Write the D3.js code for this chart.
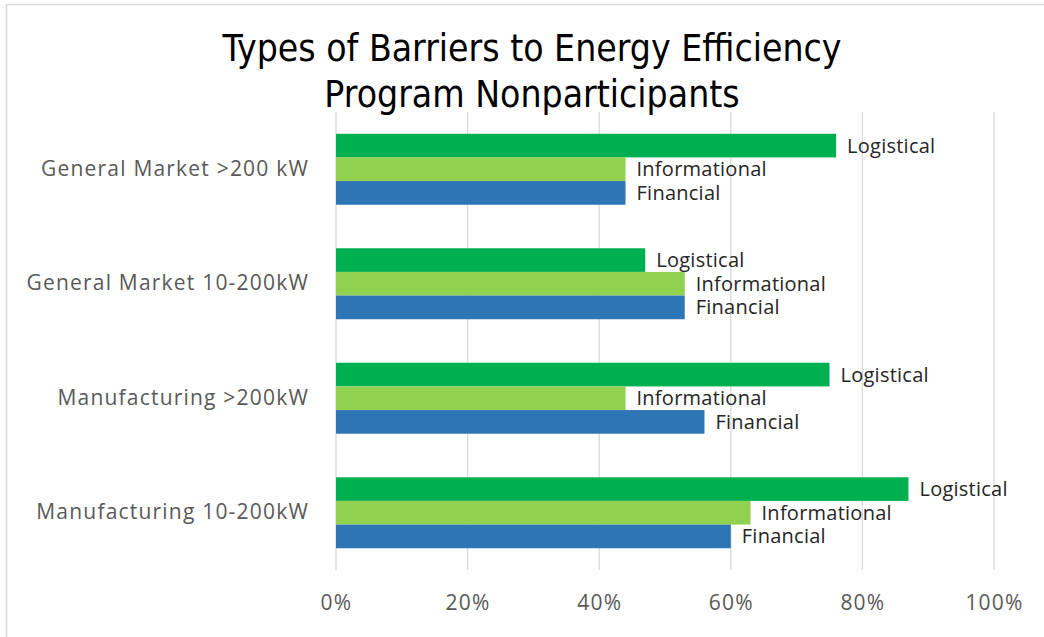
<!DOCTYPE html>
<html>
<head>
<meta charset="utf-8">
<script src="https://cdn.jsdelivr.net/npm/d3@7"></script>
<style>
  body { margin: 0; background: #fff; }
  svg text { font-family: "Open Sans", "Noto Sans", sans-serif; }
  .title { font-family: "Liberation Sans Narrow", "DejaVu Sans Condensed", sans-serif !important; fill: #000; }
  .catLabel { fill: #595959; font-size: 21px; letter-spacing: 1.2px; }
  .tickLabel { fill: #595959; font-size: 21px; letter-spacing: 1.2px; }
  .dataLabel { fill: #262626; font-size: 20px; letter-spacing: 0.25px; }
</style>
</head>
<body>
<div id="chart"></div>
<script>
var svgWidth = 1044;
var svgHeight = 637;

// chart data
var categories = ["General Market >200 kW", "General Market 10-200kW", "Manufacturing >200kW", "Manufacturing 10-200kW"];
var seriesNames = ["Logistical", "Informational", "Financial"];
var logistical = [0.76, 0.47, 0.75, 0.87];
var informational = [0.44, 0.53, 0.44, 0.63];
var financial = [0.44, 0.53, 0.56, 0.60];
var tickValues = [0, 0.2, 0.4, 0.6, 0.8, 1.0];
var seriesColors = ["#00B050", "#92D050", "#2E75B6"];

var titleLines = ["Types of Barriers to Energy Efficiency", "Program Nonparticipants"];

var margin = { top: 112, right: 50, bottom: 67, left: 336 };
var width = 994 - margin.left;
var height = 570 - margin.top;

var svg = d3.select("#chart")
  .append("svg")
  .attr("width", svgWidth)
  .attr("height", svgHeight);

// light chart-area border
svg.append("rect")
  .attr("x", 6.5)
  .attr("y", 4.5)
  .attr("width", 1100)
  .attr("height", 700)
  .attr("fill", "none")
  .attr("stroke", "#d9d9d9")
  .attr("stroke-width", 1.5);

var chartGroup = svg.append("g")
  .attr("transform", `translate(${margin.left}, ${margin.top})`);

// scales
var xScale = d3.scaleLinear()
  .domain([0, 1])
  .range([0, width]);

var yScale = d3.scaleBand()
  .domain(categories)
  .range([0, height])
  .paddingInner(0.38)
  .paddingOuter(0.19);

var ySeries = d3.scaleBand()
  .domain(seriesNames)
  .range([0, yScale.bandwidth()]);

// gridlines
chartGroup.selectAll(".grid")
  .data(tickValues)
  .enter()
  .append("line")
  .attr("x1", d => xScale(d))
  .attr("x2", d => xScale(d))
  .attr("y1", 0)
  .attr("y2", height)
  .attr("stroke", "#d9d9d9")
  .attr("stroke-width", 1.3);

// bottom axis tick labels
var bottomAxis = d3.axisBottom(xScale)
  .tickValues(tickValues)
  .tickFormat(d3.format(".0%"))
  .tickSize(0)
  .tickPadding(0);

var xAxisG = chartGroup.append("g")
  .attr("transform", `translate(0, ${height + 25})`)
  .call(bottomAxis);
xAxisG.select(".domain").remove();
xAxisG.selectAll("text")
  .attr("class", "tickLabel")
  .attr("font-family", null)
  .attr("font-size", null)
  .attr("fill", null);

// left axis category labels
var leftAxis = d3.axisLeft(yScale).tickSize(0).tickPadding(27);
var yAxisG = chartGroup.append("g").call(leftAxis);
yAxisG.select(".domain").remove();
yAxisG.selectAll("text")
  .attr("class", "catLabel")
  .attr("font-family", null)
  .attr("font-size", null)
  .attr("fill", null);

// build rows for the bars
var rows = [];
categories.forEach(function(c, i) {
  rows.push({ cat: c, series: "Logistical", value: logistical[i] });
  rows.push({ cat: c, series: "Informational", value: informational[i] });
  rows.push({ cat: c, series: "Financial", value: financial[i] });
});

var color = d3.scaleOrdinal().domain(seriesNames).range(seriesColors);

chartGroup.selectAll("rect.bar")
  .data(rows)
  .enter()
  .append("rect")
  .attr("class", "bar")
  .attr("x", 0)
  .attr("y", d => yScale(d.cat) + ySeries(d.series))
  .attr("width", d => xScale(d.value))
  .attr("height", ySeries.bandwidth())
  .attr("fill", d => color(d.series));

// data labels (series name at bar end)
chartGroup.selectAll("text.dataLabel")
  .data(rows)
  .enter()
  .append("text")
  .attr("class", "dataLabel")
  .attr("x", d => xScale(d.value) + 11)
  .attr("y", d => yScale(d.cat) + ySeries(d.series) + ySeries.bandwidth() / 2)
  .attr("dy", "0.35em")
  .text(d => d.series);

// title
svg.selectAll("text.title")
  .data(titleLines)
  .enter()
  .append("text")
  .attr("class", "title")
  .attr("x", 532)
  .attr("y", (d, i) => 61 + i * 46)
  .attr("text-anchor", "middle")
  .attr("font-size", 37)
  .text(d => d);
</script>
</body>
</html>
